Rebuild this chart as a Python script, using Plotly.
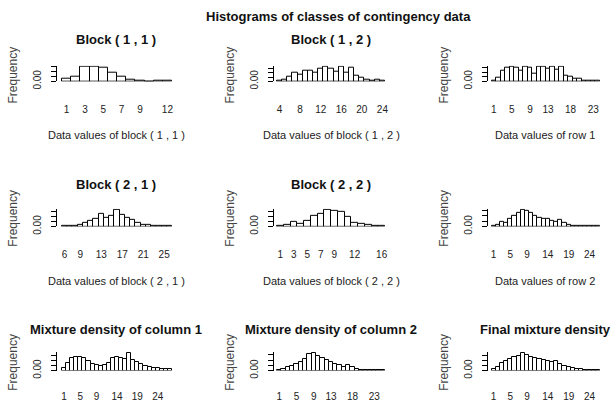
import plotly.graph_objects as go

# ---------------- data ----------------
p11_cats = [1, 2, 3, 4, 5, 6, 7, 8, 9, 10, 11, 12]
p11_vals = [0.03, 0.05, 0.15, 0.15, 0.14, 0.09, 0.05, 0.02, 0.01, 0.0, 0.005, 0.01]
p11_ticks = [1, 3, 5, 7, 9, 12]

p12_cats = [4, 5, 6, 7, 8, 9, 10, 11, 12, 13, 14, 15, 16, 17, 18, 19, 20, 21, 22, 23, 24]
p12_vals = [0.005, 0.02, 0.04, 0.08, 0.06, 0.10, 0.10, 0.08, 0.12, 0.14, 0.12, 0.09, 0.14,
            0.08, 0.13, 0.05, 0.03, 0.02, 0.01, 0.02, 0.005]
p12_ticks = [4, 8, 12, 16, 20, 24]

p13_cats = [1, 2, 3, 4, 5, 6, 7, 8, 9, 10, 11, 12, 13, 14, 15, 16, 17, 18, 19, 20, 21, 22, 23, 24]
p13_vals = [0.01, 0.03, 0.09, 0.12, 0.13, 0.12, 0.09, 0.13, 0.12, 0.07, 0.13, 0.13, 0.11,
            0.13, 0.10, 0.13, 0.05, 0.04, 0.02, 0.02, 0.01, 0.01, 0.005, 0.005]
p13_ticks = [1, 5, 9, 13, 18, 23]

p21_cats = [6, 7, 8, 9, 10, 11, 12, 13, 14, 15, 16, 17, 18, 19, 20, 21, 22, 23, 24, 25, 26]
p21_vals = [0.005, 0.005, 0.01, 0.02, 0.04, 0.06, 0.08, 0.13, 0.09, 0.11, 0.17, 0.12, 0.09,
            0.07, 0.04, 0.02, 0.015, 0.01, 0.01, 0.01, 0.01]
p21_ticks = [6, 9, 13, 17, 21, 25]

p22_cats = [1, 2, 3, 4, 5, 6, 7, 8, 9, 10, 11, 12, 13, 14, 15, 16]
p22_vals = [0.01, 0.02, 0.05, 0.03, 0.06, 0.11, 0.13, 0.17, 0.16, 0.15, 0.10, 0.04, 0.03,
            0.015, 0.01, 0.005]
p22_ticks = [1, 3, 5, 7, 9, 12, 16]

p23_cats = [1, 2, 3, 4, 5, 6, 7, 8, 9, 10, 11, 12, 13, 14, 15, 16, 17, 18, 19, 20, 21, 22,
            23, 24, 25, 26]
p23_vals = [0.01, 0.02, 0.04, 0.03, 0.07, 0.10, 0.13, 0.16, 0.15, 0.13, 0.10, 0.08, 0.07,
            0.07, 0.05, 0.04, 0.06, 0.03, 0.02, 0.01, 0.005, 0.005, 0.005, 0.005, 0.005, 0.01]
p23_ticks = [1, 5, 9, 14, 19, 24]

p31_cats = [1, 2, 3, 4, 5, 6, 7, 8, 9, 10, 11, 12, 13, 14, 15, 16, 17, 18, 19, 20, 21, 22,
            23, 24, 25, 26, 27]
p31_vals = [0.03, 0.08, 0.13, 0.14, 0.14, 0.13, 0.10, 0.07, 0.06, 0.05, 0.06, 0.08, 0.13,
            0.14, 0.13, 0.12, 0.18, 0.11, 0.09, 0.07, 0.05, 0.04, 0.03, 0.03, 0.02, 0.02, 0.02]
p31_ticks = [1, 5, 9, 14, 19, 24]

p32_cats = [1, 2, 3, 4, 5, 6, 7, 8, 9, 10, 11, 12, 13, 14, 15, 16, 17, 18, 19, 20, 21, 22,
            23, 24, 25]
p32_vals = [0.01, 0.02, 0.03, 0.04, 0.06, 0.08, 0.11, 0.16, 0.17, 0.14, 0.12, 0.10, 0.08,
            0.06, 0.05, 0.03, 0.05, 0.03, 0.02, 0.01, 0.01, 0.01, 0.01, 0.01, 0.01]
p32_ticks = [1, 5, 9, 13, 18, 23]

p33_cats = [1, 2, 3, 4, 5, 6, 7, 8, 9, 10, 11, 12, 13, 14, 15, 16, 17, 18, 19, 20, 21, 22,
            23, 24, 25, 26]
p33_vals = [0.02, 0.04, 0.08, 0.10, 0.12, 0.14, 0.15, 0.18, 0.16, 0.14, 0.13, 0.12, 0.11,
            0.10, 0.09, 0.10, 0.07, 0.05, 0.04, 0.03, 0.02, 0.02, 0.01, 0.01, 0.01, 0.01]
p33_ticks = [1, 5, 9, 14, 19, 24]

main_title = "Histograms of classes of contingency data"
panel_titles = ["Block ( 1 , 1 )", "Block ( 1 , 2 )", "",
                "Block ( 2 , 1 )", "Block ( 2 , 2 )", "",
                "Mixture density of column 1", "Mixture density of column 2",
                "Final mixture density"]
x_titles = ["Data values of block ( 1 , 1 )", "Data values of block ( 1 , 2 )",
            "Data values of row 1",
            "Data values of block ( 2 , 1 )", "Data values of block ( 2 , 2 )",
            "Data values of row 2",
            "", "", ""]
y_title = "Frequency"

# ---------------- layout geometry (pixels) ----------------
W, H = 616, 410
FONT = "Arial, Liberation Sans, sans-serif"
# columns: axis line x, bars left, bars right, domain right, centre
cols = [(57, 62, 172, 175, 116), (274, 277, 385, 388, 331), (488, 491.5, 600, 603, 545)]
# rows: baseline y, top y, title y, x-title y, frequency label y, x tick label offset
rows = [(83, 67, 40, 138, 77, 19), (231, 213, 188, 287, 223, 19), (378, 359, 336, 430, 370, 16)]

panels = [
    (p11_cats, p11_vals, p11_ticks), (p12_cats, p12_vals, p12_ticks), (p13_cats, p13_vals, p13_ticks),
    (p21_cats, p21_vals, p21_ticks), (p22_cats, p22_vals, p22_ticks), (p23_cats, p23_vals, p23_ticks),
    (p31_cats, p31_vals, p31_ticks), (p32_cats, p32_vals, p32_ticks), (p33_cats, p33_vals, p33_ticks),
]


def px_x(p):
    return p / W


def px_y(p):
    return 1 - p / H


fig = go.Figure()
annotations = []
layout_axes = {}

for i, (cats, vals, ticks) in enumerate(panels):
    r, c = divmod(i, 3)
    ax_px, bl, br, dr, cx = cols[c]
    base, top, ty, xty, fy, tl = rows[r]
    n = len(cats)
    u = n / (br - bl)
    x0 = cats[0] - 0.5 - (bl - ax_px) * u
    x1 = cats[-1] + 0.5 + (dr - br) * u
    ymax = max(vals) * 1.04
    step = 0.05 if ymax > 0.15 else 0.04
    tv = []
    t = 0.0
    while t <= ymax + 1e-9:
        tv.append(round(t, 4))
        t += step
    tt = ["0.00"] + [""] * (len(tv) - 1)

    sfx = "" if i == 0 else str(i + 1)
    fig.add_trace(go.Bar(
        x=cats, y=vals, width=1.0,
        marker=dict(color="white", line=dict(color="black", width=1)),
        xaxis="x" + sfx, yaxis="y" + sfx, showlegend=False, hoverinfo="skip",
    ))
    layout_axes["xaxis" + sfx] = dict(
        domain=[px_x(ax_px), px_x(dr)], range=[x0, x1], anchor="y" + sfx,
        showgrid=False, zeroline=False, showline=False,
        tickmode="array", tickvals=ticks, ticktext=[str(v) for v in ticks],
        ticks="outside", ticklen=tl, tickcolor="rgba(0,0,0,0)",
        tickfont=dict(family=FONT, size=10, color="#222"),
        fixedrange=True,
    )
    layout_axes["yaxis" + sfx] = dict(
        domain=[px_y(base), px_y(top)], range=[0, ymax], anchor="x" + sfx,
        showgrid=False, zeroline=False, showline=True, linecolor="black", linewidth=1,
        tickmode="array", tickvals=tv, ticktext=tt, ticks="outside", ticklen=5,
        tickcolor="black", tickwidth=1, tickangle=-90, ticklabelstandoff=6,
        tickfont=dict(family=FONT, size=10, color="#222"),
        fixedrange=True,
    )
    if panel_titles[i]:
        annotations.append(dict(text="<b>" + panel_titles[i] + "</b>", x=px_x(cx), y=px_y(ty),
                                xref="paper", yref="paper", showarrow=False,
                                xanchor="center", yanchor="middle",
                                font=dict(family=FONT, size=13, color="#111")))
    if x_titles[i]:
        annotations.append(dict(text=x_titles[i], x=px_x(cx), y=px_y(xty),
                                xref="paper", yref="paper", showarrow=False,
                                xanchor="center", yanchor="middle",
                                font=dict(family=FONT, size=11, color="#222")))
    annotations.append(dict(text=y_title, x=px_x(ax_px - 44), y=px_y(fy), textangle=-90,
                            xref="paper", yref="paper", showarrow=False,
                            xanchor="center", yanchor="middle",
                            font=dict(family=FONT, size=12, color="#444")))

annotations.append(dict(text="<b>" + main_title + "</b>", x=px_x(338), y=px_y(17),
                        xref="paper", yref="paper", showarrow=False,
                        xanchor="center", yanchor="middle",
                        font=dict(family=FONT, size=13, color="#111")))

fig.update_layout(
    width=W, height=H, margin=dict(l=0, r=0, t=0, b=0),
    paper_bgcolor="white", plot_bgcolor="white",
    bargap=0, annotations=annotations, showlegend=False,
    **layout_axes,
)

fig.write_html("out.html", config={"displayModeBar": False},
               post_script="document.body.style.margin='0';document.body.style.padding='0';")
